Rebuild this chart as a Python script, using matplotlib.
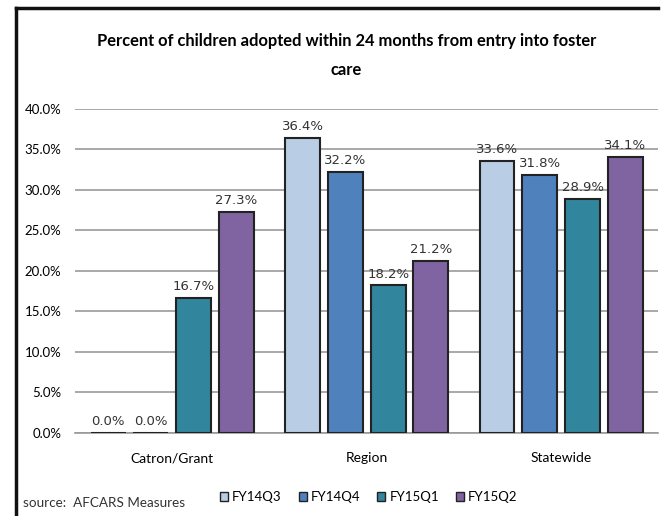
import matplotlib
matplotlib.use("Agg")
import matplotlib.pyplot as plt
from matplotlib.lines import Line2D
from matplotlib.patches import Patch
import numpy as np

categories = ["Catron/Grant", "Region", "Statewide"]
series_names = ["FY14Q3", "FY14Q4", "FY15Q1", "FY15Q2"]
fy14q3 = [0.0, 36.4, 33.6]
fy14q4 = [0.0, 32.2, 31.8]
fy15q1 = [16.7, 18.2, 28.9]
fy15q2 = [27.3, 21.2, 34.1]
colors = ["#B9CDE5", "#4F81BD", "#31859C", "#8064A2"]
yticks = [0, 5, 10, 15, 20, 25, 30, 35, 40]

series = [fy14q3, fy14q4, fy15q1, fy15q2]

fig = plt.figure(figsize=(6.65, 5.16), dpi=100)
ax = fig.add_axes([0.113, 0.161, 0.877, 0.628])

title_font = ["Lato", "DejaVu Sans"]
x = np.arange(len(categories))
width = 0.18
step = 0.22
for i, (vals, col) in enumerate(zip(series, colors)):
    pos = x + (i - 1.5) * step
    ax.bar(pos, vals, width, color=col, edgecolor="#222222", linewidth=1.5, zorder=3)
    for p, v in zip(pos, vals):
        ax.text(p, v + 0.6, f"{v:.1f}%", ha="center", va="bottom", fontsize=9.5,
                color="#333333", family=["DejaVu Sans"], zorder=4)

ax.set_xlim(-0.5, 2.5)
ax.set_ylim(0, 40)
ax.set_yticks(yticks)
ax.set_yticklabels([f"{t:.1f}%" for t in yticks], family=title_font, fontsize=9.5)
ax.set_xticks(x)
ax.set_xticklabels(categories, family=title_font, fontsize=10)
ax.tick_params(axis="both", length=0, pad=10)
ax.tick_params(axis="x", pad=14)
ax.grid(axis="y", color="#999999", linewidth=1.2, zorder=0)
for s in ["top", "right", "left"]:
    ax.spines[s].set_visible(False)
ax.spines["bottom"].set_color("#999999")
ax.spines["bottom"].set_linewidth(1.2)

fig.text(0.521, 0.92, "Percent of children adopted within 24 months from entry into foster",
         ha="center", va="center", fontsize=11.9, weight="bold", family=title_font)
fig.text(0.521, 0.864, "care", ha="center", va="center", fontsize=11.9, weight="bold",
         family=title_font)

fig.text(0.034, 0.025, "source:  AFCARS Measures", ha="left", va="center", fontsize=9.7,
         family=title_font, color="#333333")

handles = [Patch(facecolor=c, edgecolor="#222222", linewidth=1) for c in colors]
leg = fig.legend(handles, series_names, loc="center left", bbox_to_anchor=(0.331, 0.037),
                 ncol=4, frameon=False, handlelength=0.6, handleheight=0.7,
                 handletextpad=0.3, columnspacing=1.3, borderpad=0, borderaxespad=0,
                 prop={"family": title_font, "size": 9.5})

# frame (left, top, right)
fig.add_artist(Line2D([0.024, 0.024], [0.0, 0.984], color="#111111", linewidth=2.5,
                      transform=fig.transFigure))
fig.add_artist(Line2D([0.024, 0.99], [0.984, 0.984], color="#111111", linewidth=2.5,
                      transform=fig.transFigure))

fig.savefig("out.png", dpi=100)
